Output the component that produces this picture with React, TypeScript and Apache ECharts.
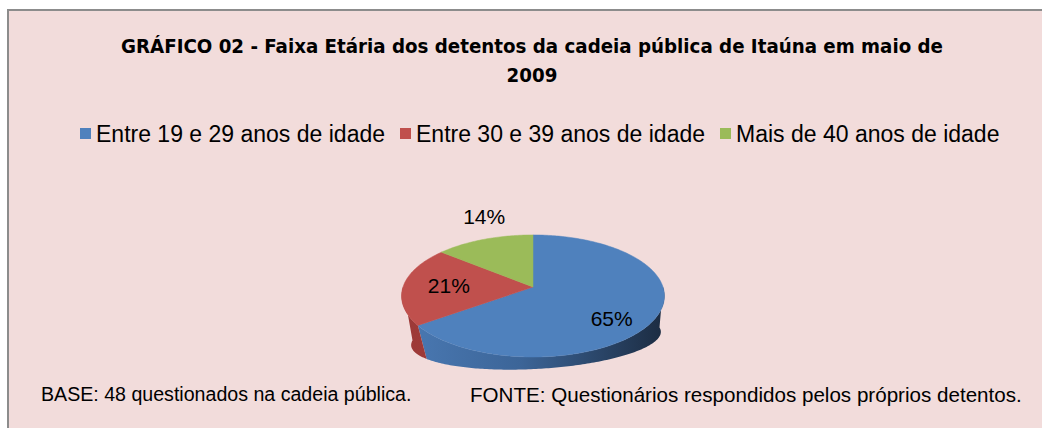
import React, { useEffect, useRef } from 'react';
import * as echarts from 'echarts';

// ---- data ----
const categories = [
  'Entre 19 e 29 anos de idade',
  'Entre 30 e 39 anos de idade',
  'Mais de 40 anos de idade',
];
const values = [65, 21, 14];
const titleText =
  'GRÁFICO 02 - Faixa Etária dos detentos da cadeia pública de Itaúna em maio de\n2009';
const baseText = 'BASE: 48 questionados na cadeia pública.';
const fonteText = 'FONTE: Questionários respondidos pelos próprios detentos.';

// ---- styles / layout ----
const topColors = ['#4f81bd', '#c0504d', '#9bbb59'];
const sideColors = [
  ['#4a79b3', '#3c6598', '#1c2c42'],
  ['#9c3937', '#a83f3c', '#b04542'],
  ['#7e9a45', '#86a24b', '#8ea851'],
];
const labelFrac = [0.65, 0.65, 1.0];
const labelDy = [13, 0, -23];

const FONT = "'Liberation Sans', Arial, sans-serif";
const TITLE_FONT = "'DejaVu Sans Condensed', 'Liberation Sans Narrow', sans-serif";

// projection of the 3D pie
const CX = 533;
const CY = 287;
const R = 130;
const RY = 59.7;
const K = 0.147;
const MIDY = 296;
const BX = 536;
const BY = 338.5;
const BC = 0.95;
const BC2 = 0.5;
const TILT = -0.05;

function topPt(theta: number, f = 1): [number, number] {
  const u = Math.sin(theta) * f;
  const v = -Math.cos(theta) * f;
  const s = 1 / (1 - K * v);
  return [CX + R * u * s, CY + RY * v * s];
}
function botPt(theta: number): [number, number] {
  const [x, y] = topPt(theta);
  const dx = x - CX;
  return [BX + BC * dx, BY + BC2 * (y - MIDY) + TILT * dx];
}
function arc(a: number, b: number, fn: (t: number) => [number, number]) {
  const pts: [number, number][] = [];
  const n = Math.max(2, Math.ceil(((b - a) * 180) / Math.PI));
  for (let i = 0; i <= n; i++) pts.push(fn(a + ((b - a) * i) / n));
  return pts;
}

const total = values.reduce((s, v) => s + v, 0);

function makeRenderItem(idx: number) {
  return (params: any, api: any) => {
    const v = api.value(0);
    const before = values.slice(0, idx).reduce((s, x) => s + x, 0);
    const a = (before / total) * Math.PI * 2;
    const b = a + (v / total) * Math.PI * 2;
    const children: any[] = [];
    // side wall (front half only)
    const sa = Math.max(a, Math.PI / 2);
    const sb = Math.min(b, (Math.PI * 3) / 2);
    if (sb > sa) {
      const pts = arc(sa, sb, (t) => topPt(t)).concat(arc(sa, sb, botPt).reverse());
      children.push({
        type: 'polygon',
        z2: 1,
        shape: { points: pts },
        style: {
          fill: new echarts.graphic.LinearGradient(
            CX - R,
            0,
            CX + R,
            0,
            [
              { offset: 0, color: sideColors[idx][0] },
              { offset: 0.45, color: sideColors[idx][1] },
              { offset: 1, color: sideColors[idx][2] },
            ],
            true
          ),
          stroke: null,
        },
      });
    }
    // top face
    const topPts = [[CX, CY] as [number, number]].concat(arc(a, b, (t) => topPt(t)));
    children.push({
      type: 'polygon',
      z2: 5,
      shape: { points: topPts },
      style: { fill: topColors[idx], stroke: topColors[idx], lineWidth: 0.5 },
    });
    // label
    const m = (a + b) / 2;
    const [lx, ly] = topPt(m, labelFrac[idx]);
    children.push({
      type: 'text',
      z2: 10,
      x: lx,
      y: ly + labelDy[idx],
      style: {
        text: Math.round((v / total) * 100) + '%',
        fontSize: 21,
        fontFamily: FONT,
        fill: '#000',
        textAlign: 'center',
        textVerticalAlign: 'middle',
      },
    });
    return { type: 'group', children };
  };
}

export default function App() {
  const ref = useRef<HTMLDivElement>(null);
  useEffect(() => {
    if (!ref.current) return;
    const chart = echarts.init(ref.current, undefined, { renderer: 'svg' });
    chart.setOption({
      animation: false,
      backgroundColor: '#ffffff',
      title: {
        text: titleText,
        left: 532,
        top: 31,
        padding: 0,
        textAlign: 'center',
        textStyle: {
          fontFamily: TITLE_FONT,
          fontWeight: 'bold',
          fontSize: 20.3,
          lineHeight: 29,
          color: '#000',
        },
      },
      legend: {
        data: categories,
        left: 80,
        top: 122,
        padding: 0,
        icon: 'rect',
        itemWidth: 11,
        itemHeight: 11,
        itemGap: 15,
        textStyle: { fontFamily: FONT, fontSize: 23, lineHeight: 22, color: '#000' },
        selectedMode: false,
      },
      graphic: [
        {
          type: 'rect',
          z: -10,
          shape: { x: 8, y: 10, width: 1200, height: 1000 },
          style: { fill: '#f2dcdb', stroke: '#8c8c8c', lineWidth: 2 },
        },
        {
          type: 'text',
          x: 41,
          y: 394,
          style: {
            text: baseText,
            fontFamily: FONT,
            fontSize: 19.6,
            fill: '#000',
            textVerticalAlign: 'middle',
          },
        },
        {
          type: 'text',
          x: 470,
          y: 394,
          style: {
            text: fonteText,
            fontFamily: FONT,
            fontSize: 20.6,
            fill: '#000',
            textVerticalAlign: 'middle',
          },
        },
      ],
      series: categories.map((name, i) => ({
        type: 'custom',
        name,
        coordinateSystem: 'none',
        itemStyle: { color: topColors[i] },
        data: [[values[i]]],
        renderItem: makeRenderItem(i),
      })),
    });
    return () => chart.dispose();
  }, []);
  return (
    <div
      ref={ref}
      style={{ position: 'fixed', left: 0, top: 0, width: 1042, height: 428 }}
    />
  );
}
